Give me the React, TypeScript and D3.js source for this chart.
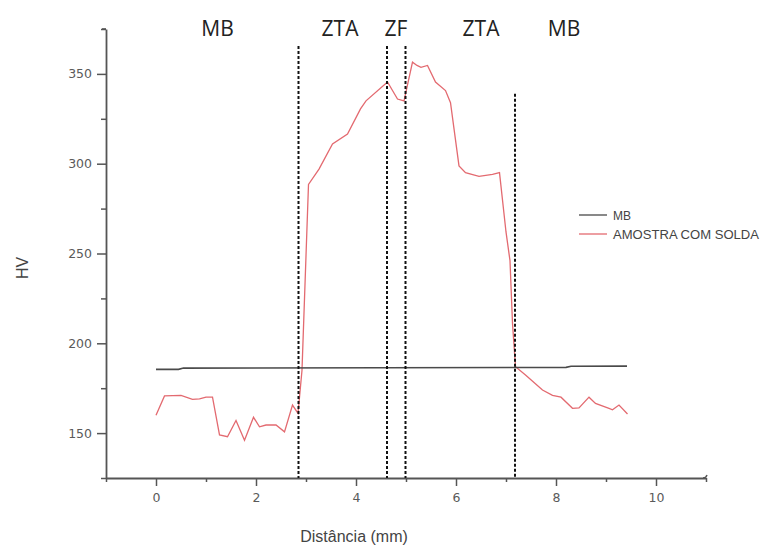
import {useEffect, useRef} from 'react';
import * as d3 from 'd3';

// distância (mm) e dureza (HV)
const mbX = [0, 0.45, 0.55, 8.2, 8.3, 9.42]
	, mbY = [185.5, 185.5, 186.2, 186.6, 187.2, 187.3]
	, soldaX = [0, 0.17, 0.5, 0.73, 0.87, 1.0, 1.13, 1.27, 1.43, 1.6, 1.77, 1.95, 2.07, 2.2, 2.4, 2.57, 2.73, 2.84, 2.92, 3.05, 3.26, 3.53, 3.83, 4.09, 4.2, 4.63, 4.83, 4.96, 5.13, 5.22, 5.3, 5.43, 5.59, 5.79, 5.89, 6.06, 6.19, 6.46, 6.73, 6.87, 7.0, 7.08, 7.13, 7.19, 7.39, 7.73, 7.93, 8.1, 8.33, 8.46, 8.66, 8.79, 9.06, 9.13, 9.26, 9.43]
	, soldaY = [160, 170.7, 171, 168.8, 169, 170, 170, 149, 148, 157, 146, 158.8, 153.5, 154.5, 154.5, 150.7, 165.6, 161, 185, 288.5, 297, 311, 316.5, 330.5, 335, 345.5, 336, 335, 356.5, 354.7, 353.7, 354.7, 345.5, 340.7, 334, 298.8, 295, 293, 294, 295, 262, 246, 211, 187, 182.4, 174, 171, 170, 163.8, 164, 170, 166.5, 163.8, 163, 165.6, 160.6]
	, zonas = ['MB', 'ZTA', 'ZF', 'ZTA', 'MB']
	, zonasX = [1.23, 3.68, 4.8, 6.5, 8.16]
	, limitesX = [2.85, 4.62, 4.99, 7.18]
	, limitesTopo = [365.5, 365.5, 365.5, 339]
	, xTicks = [0, 2, 4, 6, 8, 10]
	, xMinor = [-1, 1, 3, 5, 7, 9, 11]
	, yTicks = [150, 200, 250, 300, 350]
	, yMinor = [125, 175, 225, 275, 325, 375]
	, legenda = ['MB', 'AMOSTRA COM SOLDA']
	;

export default function App(){
	const svgRef = useRef<SVGSVGElement>(null);

	useEffect(()=>{
		let svg = d3.select(svgRef.current)
			, x = d3.scaleLinear().domain([-1, 11]).range([106, 706])
			, y = d3.scaleLinear().domain([125, 375]).range([478, 29])
			, line = d3.line<[number, number]>().x((d)=>x(d[0])).y((d)=>y(d[1]))
			, eixoCor = '#555'
			, vermelho = '#e36a70'
			, fonte = '"Liberation Sans", Arial, sans-serif'
			;

		svg.selectAll('*').remove();

		// eixos
		let gx = svg.append('g').attr('transform', `translate(0,${y(125)})`)
			.call(d3.axisBottom(x).tickValues(xTicks).tickSize(8).tickSizeOuter(0).tickPadding(7).tickFormat(d3.format('d')));
		svg.append('g').attr('transform', `translate(0,${y(125)})`)
			.call(d3.axisBottom(x).tickValues(xMinor).tickSize(4).tickSizeOuter(0).tickFormat(()=>''))
			.select('.domain').remove();
		let gy = svg.append('g').attr('transform', `translate(${x(-1)},0)`)
			.call(d3.axisLeft(y).tickValues(yTicks).tickSize(9).tickSizeOuter(0).tickPadding(5));
		svg.append('g').attr('transform', `translate(${x(-1)},0)`)
			.call(d3.axisLeft(y).tickValues(yMinor).tickSize(5).tickSizeOuter(0).tickFormat(()=>''))
			.select('.domain').remove();

		svg.selectAll('.domain').attr('stroke', eixoCor).attr('stroke-width', 1.8);
		svg.selectAll('.tick line').attr('stroke', eixoCor).attr('stroke-width', 1.5);
		[gx, gy].forEach((g)=>{
			g.selectAll('text').attr('fill', '#5a5a5a').attr('font-size', 12.5).attr('font-family', '"DejaVu Sans", sans-serif');
		});

		// pontas dos eixos
		svg.append('path').attr('d', `M${x(-1) -4},${y(375)}H${x(-1)}`).attr('stroke', eixoCor).attr('stroke-width', 1.6).attr('fill', 'none');
		svg.append('path').attr('d', `M${x(11) -3},${y(125)}Q${x(11)},${y(125)} ${x(11) +1},${y(125) -3}`).attr('stroke', eixoCor).attr('stroke-width', 1.4).attr('fill', 'none');

		// títulos dos eixos
		svg.append('text').attr('x', 354).attr('y', 542).attr('text-anchor', 'middle')
			.attr('font-size', 16).attr('font-family', fonte).attr('fill', '#444').text('Distância (mm)');
		svg.append('text').attr('transform', `translate(28,${268}) rotate(-90)`).attr('text-anchor', 'middle')
			.attr('font-size', 16).attr('font-family', fonte).attr('fill', '#444').text('HV');

		// séries
		svg.append('path').datum(d3.zip(soldaX, soldaY) as [number, number][])
			.attr('d', line).attr('fill', 'none').attr('stroke', vermelho).attr('stroke-width', 1.3);
		svg.append('path').datum(d3.zip(mbX, mbY) as [number, number][])
			.attr('d', line).attr('fill', 'none').attr('stroke', '#4a4a4a').attr('stroke-width', 1.6);

		// limites das zonas
		svg.selectAll('line.limite').data(limitesX).enter().append('line').attr('class', 'limite')
			.attr('x1', (d)=>x(d)).attr('x2', (d)=>x(d))
			.attr('y1', (d, i)=>y(limitesTopo[i])).attr('y2', y(125))
			.attr('stroke', '#111').attr('stroke-width', 2).attr('stroke-dasharray', '3,2');

		// nomes das zonas
		svg.selectAll('text.zona').data(zonas).enter().append('text').attr('class', 'zona')
			.attr('x', (d, i)=>x(zonasX[i])).attr('y', 36).attr('text-anchor', 'middle')
			.attr('font-size', 21).attr('font-family', '"Open Sans", sans-serif').attr('fill', '#222').text((d)=>d);

		// legenda
		let leg = svg.append('g').attr('transform', 'translate(579,215)');
		legenda.forEach((nome, i)=>{
			leg.append('line').attr('x1', 0).attr('x2', 28).attr('y1', i *19).attr('y2', i *19)
				.attr('stroke', i ? vermelho : '#4a4a4a').attr('stroke-width', 1.3);
			let t = leg.append('text').attr('x', 34).attr('y', i *19 +4.5)
				.attr('font-size', 12).attr('font-family', fonte).attr('fill', '#444').text(nome);
			if( i ) t.attr('textLength', 146).attr('lengthAdjust', 'spacingAndGlyphs');
		});
	}, []);

	return (<svg ref={svgRef}
	             width={767}
	             height={545}
	             style={{position: 'absolute', left: 0, top: 0, background: '#fff'}}></svg>);
}
